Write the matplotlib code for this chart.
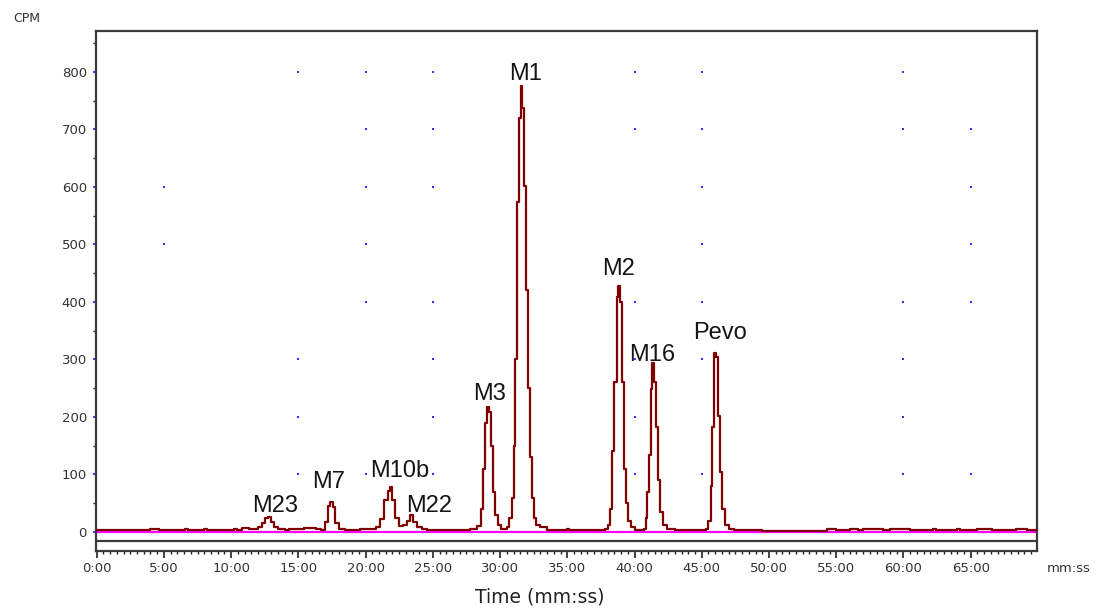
import matplotlib
matplotlib.use("Agg")
import matplotlib.pyplot as plt
from matplotlib.ticker import MultipleLocator, FixedLocator, FuncFormatter

# ---------------- data ----------------
time_min = [0.0, 4.0, 4.6, 6.6, 6.8, 8.0, 8.2, 10.2, 10.4, 10.8, 11.3,
            12.0, 12.3, 12.55, 12.75, 12.95, 13.2, 13.5, 14.0, 14.3, 15.4, 16.3, 16.7,
            17.0, 17.2, 17.35, 17.55, 17.75, 18.0, 18.5,
            19.6, 20.8, 21.1, 21.4, 21.65, 21.8, 22.0, 22.2, 22.45,
            22.75, 23.05, 23.3, 23.55, 23.85, 24.2, 24.6,
            27.8, 28.3, 28.55, 28.75, 28.9, 29.05, 29.2, 29.35, 29.5, 29.65, 29.85, 30.1,
            30.5, 30.7, 30.85, 31.0, 31.1, 31.23, 31.38, 31.53, 31.62, 31.75, 31.9,
            32.05, 32.2, 32.35, 32.5, 32.7, 33.0, 33.5, 34.0, 35.0, 35.15,
            37.8, 38.0, 38.2, 38.35, 38.47, 38.67, 38.79, 38.91, 39.09, 39.22, 39.37,
            39.55, 39.75, 40.0,
            40.7, 40.85, 40.95, 41.07, 41.2, 41.32, 41.45, 41.6, 41.77, 41.9, 42.1, 42.4, 43.0,
            45.3, 45.5, 45.65, 45.79, 45.94, 46.06, 46.18, 46.36, 46.53, 46.7, 47.0, 47.4,
            49.5, 54.3, 55.0, 56.0, 56.6, 57.0, 58.5, 59.0, 60.5, 62.2, 62.4, 64.0, 64.2,
            65.5, 66.6, 68.4, 69.2, 70.0]
cpm = [3, 6, 3, 5, 3, 5, 3, 5, 3, 7, 5,
       9, 16, 24, 26, 17, 9, 5, 3, 5, 7, 5, 3,
       18, 45, 53, 44, 15, 6, 3,
       5, 9, 22, 55, 72, 78, 55, 25, 10,
       13, 20, 30, 18, 8, 5, 3,
       5, 10, 40, 110, 190, 217, 208, 150, 70, 30, 12, 5,
       8, 25, 60, 150, 300, 574, 720, 776, 737, 602, 420,
       250, 130, 60, 25, 12, 8, 4, 3, 5, 3,
       5, 12, 40, 141, 261, 409, 428, 400, 261, 110, 50,
       20, 8, 4,
       6, 25, 70, 134, 248, 293, 261, 182, 90, 35, 12, 5, 3,
       5, 20, 80, 182, 311, 305, 202, 105, 40, 12, 5, 3,
       2, 5, 3, 5, 3, 5, 3, 5, 3, 5, 3, 5, 3,
       6, 3, 5, 3, 3]

peak_names = ["M23", "M7", "M10b", "M22", "M3", "M1", "M2", "M16", "Pevo"]
label_x = [13.26, 17.27, 22.5, 24.7, 29.2, 31.9, 38.8, 41.3, 46.35]
label_y = [35, 76, 95, 34, 230, 786, 447, 298, 335]

x_tick_min = list(range(0, 70, 5))
y_ticks = list(range(0, 900, 100))

# visible grid dots (minutes) per CPM row
dot_rows = {
    800: [15, 20, 25, 40, 45, 60],
    700: [20, 25, 40, 45, 60, 65],
    600: [5, 20, 25, 45, 65],
    500: [5, 20, 45, 65],
    400: [20, 25, 40, 45, 60, 65],
    300: [15, 25, 40, 45, 60],
    200: [15, 25, 40, 60],
    100: [15, 20, 25, 40, 45, 60, 65],
    0: [20, 25, 45, 60, 65],
}
ref_line = -16

# ---------------- figure ----------------
W, H = 1098, 612
fig = plt.figure(figsize=(W / 100, H / 100), dpi=100)
ax = fig.add_axes([96 / W, 1 - 551 / H, (1037 - 96) / W, (551 - 31) / H])

ax.set_xlim(-0.05, 69.93)
ax.set_ylim(-33, 871)

# grid dots
for yv, xs in dot_rows.items():
    ax.plot(xs, [yv] * len(xs), linestyle="none", marker="s", markersize=1.6,
            markeredgewidth=0, color="#3030ff", zorder=1)

ax.axhline(ref_line, color="#3a3a3a", lw=1.6, zorder=2)
ax.axhline(0, color="#ff00ff", lw=1.6, zorder=2)
ax.step(time_min, cpm, where="post", color="#800000", lw=1.6, zorder=3)

for name, lx, ly in zip(peak_names, label_x, label_y):
    ax.text(lx, ly, name, ha="center", va="baseline", fontsize=17,
            family="Liberation Sans", color="#151515", zorder=4)

for s in ax.spines.values():
    s.set_color("#3a3a3a")
    s.set_linewidth(1.6)

ax.xaxis.set_major_locator(FixedLocator(x_tick_min))
ax.xaxis.set_minor_locator(MultipleLocator(0.5))
ax.xaxis.set_major_formatter(FuncFormatter(lambda v, p: f"{int(round(v))}:00"))
ax.yaxis.set_major_locator(FixedLocator(y_ticks))
ax.yaxis.set_minor_locator(MultipleLocator(50))

ax.tick_params(axis="x", which="major", length=5, width=1.2, color="#222222",
               pad=3.0, labelsize=9.5, labelcolor="#333333")
ax.tick_params(axis="x", which="minor", length=2.5, width=1.0, color="#222222")
ax.tick_params(axis="y", which="major", length=2, width=1.2, color="#2020ff",
               pad=4.5, labelsize=9.5, labelcolor="#333333")
ax.tick_params(axis="y", which="minor", length=2.5, width=1.0, color="#222222")

fig.text(27 / W, 1 - 18 / H, "CPM", ha="center", va="center", fontsize=9,
         color="#333333")
fig.text(1069 / W, 1 - 568 / H, "mm:ss", ha="center", va="center", fontsize=9.5,
         color="#333333")
fig.text(540 / W, 1 - 597 / H, "Time (mm:ss)", ha="center", va="center",
         fontsize=13.5, color="#222222")

fig.savefig("out.png", dpi=100, facecolor="white")
